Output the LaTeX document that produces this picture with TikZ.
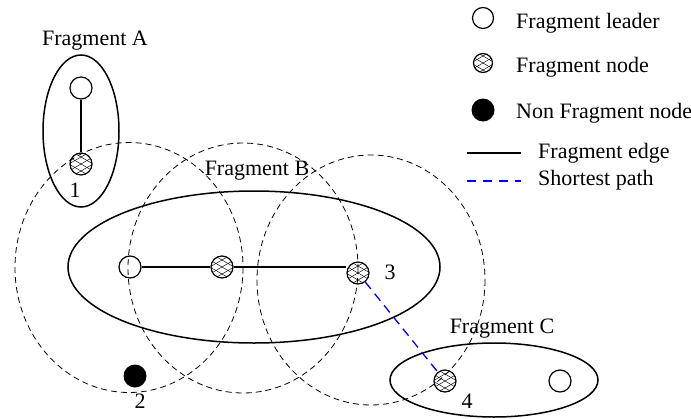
\documentclass[tikz,border=0pt]{standalone}
\usepackage{fontspec}
\setmainfont{Liberation Serif}
\usetikzlibrary{shapes.geometric}
\begin{document}
\begin{tikzpicture}[x=1pt,y=-1pt,
  font=\fontsize{22}{26}\selectfont,
  frag/.style={draw, ellipse, line width=1.5pt, inner sep=0pt},
  leader/.style={draw, circle, line width=1.2pt, minimum size=22pt, inner sep=0pt},
  fnode/.style={leader, path picture={
      \foreach \k in {-21,-14,...,21}{
        \draw[line width=0.45pt] ([yshift=\k pt]path picture bounding box.center) +(30:-22pt) -- +(30:22pt);
        \draw[line width=0.45pt] ([yshift=\k pt]path picture bounding box.center) +(-30:-22pt) -- +(-30:22pt);
      }}},
  nonf/.style={circle, fill=black, minimum size=23pt, inner sep=0pt},
  rangering/.style={line width=0.8pt, dash pattern=on 6pt off 4pt},
  fedge/.style={line width=1.2pt},
  spath/.style={blue, line width=1.3pt, dash pattern=on 9pt off 6pt},
  lbl/.style={inner sep=0pt, anchor=base},
  ltxt/.style={inner sep=0pt, anchor=base west}
]
\useasboundingbox (0,0) rectangle (691,418);

% transmission ranges
\draw[rangering] (129,267.5) ellipse [x radius=114, y radius=125];
\draw[rangering] (243,268) ellipse [x radius=115, y radius=125];
\draw[rangering] (371,280) ellipse [x radius=114, y radius=125];

% fragments
\node[frag, minimum width=76pt, minimum height=152pt] (fa) at (81,131) {};
\node[frag, minimum width=372pt, minimum height=152pt] (fb) at (254,267) {};
\node[frag, minimum width=208pt, minimum height=74pt] (fc) at (494,380) {};

% nodes
\node[leader] (la) at (81,88) {};
\node[fnode] (n1) at (81,164) {};
\node[leader] (lb) at (130,267) {};
\node[fnode] (mb) at (222,267) {};
\node[fnode] (n3) at (358,273) {};
\node[nonf] (n2) at (135,376) {};
\node[fnode] (n4) at (445,381) {};
\node[leader] (lc) at (560,381) {};

% edges
\draw[fedge] (la) -- (n1);
\draw[fedge] (lb) -- (mb);
\draw[fedge] (mb) -- (mb -| n3.west);
\draw[spath] (n3) -- (n4);

% labels
\node[lbl] (ta) at (95,45) {Fragment A};
\node[lbl] (tb) at (257,175) {Fragment B};
\node[lbl] (tc) at (502,333) {Fragment C};
\node[lbl] (t1) at (75,197) {1};
\node[lbl] (t2) at (140,408) {2};
\node[lbl] (t3) at (390,279) {3};
\node[lbl] (t4) at (467,408) {4};

% legend
\node[leader, minimum size=21pt] (gl) at (483,18) {};
\node[fnode, minimum size=19pt] (gf) at (483,63) {};
\node[nonf] (gn) at (483,110) {};
\coordinate (ge1) at (467,153);
\coordinate (ge2) at (521,153);
\coordinate (gs1) at (467,181);
\coordinate (gs2) at (521,181);
\draw[fedge] (ge1) -- (ge2);
\draw[spath, dash pattern=on 9pt off 7pt] (gs1) -- (gs2);
\node[ltxt] (xl) at (516,28) {Fragment leader};
\node[ltxt] (xf) at (516,72) {Fragment node};
\node[ltxt] (xn) at (516,118) {Non Fragment node};
\node[ltxt] (xe) at (538,158) {Fragment edge};
\node[ltxt] (xs) at (538,185) {Shortest path};
\end{tikzpicture}
\end{document}
